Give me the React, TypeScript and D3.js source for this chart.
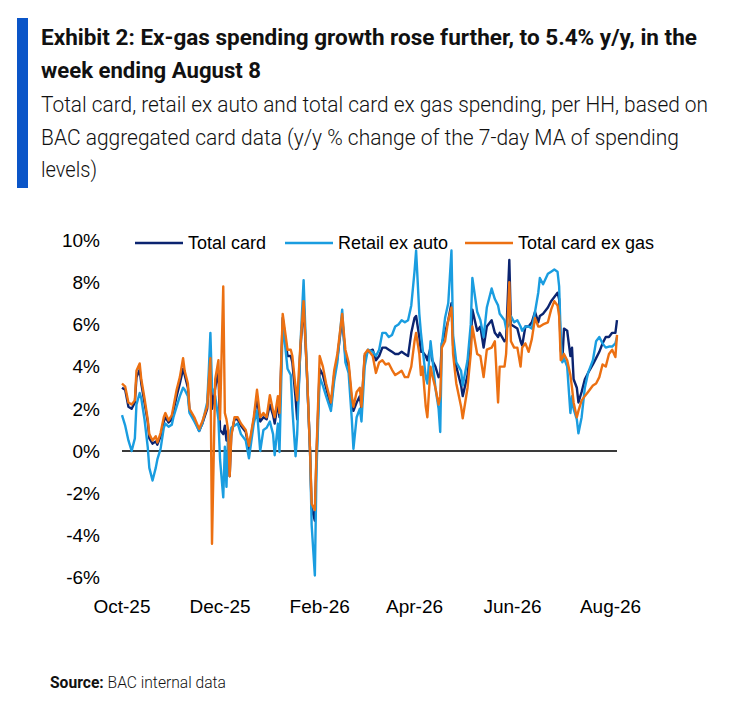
import React from 'react'
import * as d3 from 'd3'

// day offsets from 1 Oct 2025 (sampled off the chart)
const START = '2025-10-01'
const dayOffsets = [
  0, 2, 4, 6, 8, 9, 11, 12, 14, 16, 17, 19, 21, 22, 24, 26, 27, 29, 31, 32,
  34, 36, 38, 39, 41, 42, 45, 48, 50, 53, 54, 55, 56, 58, 60, 61, 63, 64, 65, 66,
  67, 68, 70, 72, 74, 77, 79, 82, 84, 86, 88, 90, 92, 94, 95, 97, 98, 100, 103, 105,
  106, 108, 109, 111, 113, 115, 117, 118, 120, 121, 123, 125, 127, 130, 132, 134, 137, 139, 141, 143,
  144, 146, 148, 149, 151, 153, 156, 158, 160, 162, 164, 166, 168, 170, 172, 174, 176, 178, 180, 182,
  183, 185, 186, 187, 189, 190, 192, 193, 195, 197, 198, 199, 201, 203, 205, 206, 208, 211, 212, 215,
  217, 218, 221, 223, 225, 227, 230, 232, 234, 235, 238, 239, 241, 242, 244, 246, 248, 249, 251, 253,
  255, 257, 259, 260, 262, 265, 267, 269, 271, 272, 273, 274, 275, 277, 279, 280, 281, 283, 284, 286,
  288, 290, 293, 295, 297, 299, 301, 303, 305, 307, 308,
]

const totalCard = [
  3.0, 2.9, 2.1, 2.0, 2.3, 3.5, 3.85, 3.2, 2.3, 1.4, 0.6, 0.35, 0.45, 0.3, 0.7, 1.4, 1.6, 1.35, 1.5, 1.9,
  2.6, 3.2, 3.9, 3.6, 3.0, 1.9, 1.5, 0.95, 1.3, 2.0, 3.2, 4.3, 2.0, 3.0, 3.8, 1.0, 0.8, 1.2, 0.5, 1.0,
  -1.2, 0.8, 1.5, 1.5, 1.2, 0.9, 0.1, 1.5, 2.5, 1.4, 1.6, 1.5, 2.2, 1.7, 1.3, 2.3, 1.6, 6.3, 4.5, 4.5,
  4.2, 2.5, 1.5, 4.8, 7.0, 3.8, 0.0, -2.7, -3.3, -0.3, 3.9, 3.6, 3.0, 2.1, 3.6, 4.4, 6.3, 4.5, 4.0, 2.3,
  1.9, 2.3, 2.6, 2.0, 4.5, 4.7, 4.8, 4.3, 4.5, 4.9, 4.9, 4.8, 4.7, 4.6, 4.6, 4.7, 4.6, 4.5, 5.6, 6.3,
  6.4, 5.4, 4.7, 4.7, 4.5, 4.3, 4.9, 4.3, 4.0, 3.5, 3.6, 5.1, 5.6, 6.2, 7.0, 5.0, 4.0, 3.1, 2.6, 3.6,
  5.2, 6.7, 5.7, 5.9, 4.9, 5.9, 6.2, 5.6, 5.4, 5.6, 5.2, 5.3, 9.05, 6.0, 5.9, 5.8, 5.2, 5.0, 5.9, 5.9,
  6.1, 6.6, 6.1, 6.4, 6.5, 6.8, 7.1, 7.3, 7.5, 7.2, 4.8, 4.3, 5.8, 5.7, 4.5, 4.9, 3.4, 3.0, 2.3, 2.8,
  3.4, 3.7, 4.1, 4.4, 4.7, 5.1, 5.4, 5.4, 5.6, 5.6, 6.2,
]

const retailExAuto = [
  1.7, 1.2, 0.5, 0.0, 0.6, 2.2, 2.75, 2.5, 1.5, 0.2, -0.8, -1.4, -0.8, -0.4, 0.1, 1.1, 1.3, 1.15, 1.25, 1.6,
  2.1, 2.6, 3.0, 2.9, 2.6, 1.8, 1.4, 0.95, 1.3, 2.3, 3.8, 5.6, 3.0, 2.6, 1.5, -0.4, -2.2, 0.2, -1.7, 0.8,
  -0.3, 1.1, 1.2, 1.3, 0.8, 0.5, -0.35, 1.3, 1.9, 0.0, 1.0, 1.1, 1.4, 0.8, -0.2, 1.3, -0.05, 6.1, 3.9, 3.6,
  2.0, -0.25, 0.8, 5.0, 8.1, 3.8, 0.0, -3.5, -5.9, -1.0, 3.5, 3.1, 2.6, 1.9, 3.3, 4.2, 6.7, 4.2, 3.7, 1.5,
  0.1, 1.6, 2.0, 1.4, 4.0, 4.8, 4.7, 4.5, 4.8, 5.6, 5.6, 5.4, 5.5, 5.9, 6.0, 6.2, 6.1, 6.2, 6.9, 8.5,
  9.5, 6.5, 5.6, 4.9, 3.5, 3.2, 5.2, 4.5, 3.0, 2.0, 0.9, 5.0, 6.3, 7.0, 9.5, 5.5, 4.2, 3.8, 3.1, 4.3,
  6.0, 8.2, 6.6, 6.2, 5.4, 6.8, 7.7, 7.2, 6.9, 6.5, 6.2, 5.8, 6.0, 6.4, 6.1, 6.2, 5.9, 5.7, 5.9, 5.9,
  5.8, 6.6, 7.5, 8.2, 7.9, 8.4, 8.5, 8.6, 8.5, 7.8, 5.4, 4.2, 4.4, 4.0, 1.8, 2.6, 2.0, 1.5, 0.84, 1.6,
  3.0, 3.7, 4.3, 5.2, 5.4, 5.1, 4.9, 4.95, 4.95, 5.1, 5.4,
]

const totalCardExGas = [
  3.2, 3.05, 2.3, 2.2, 2.4, 3.8, 4.15, 3.4, 2.5, 1.5, 0.8, 0.5, 0.7, 0.4, 0.85, 1.6, 1.8, 1.45, 1.7, 2.1,
  2.9, 3.5, 4.4, 3.8, 3.2, 2.0, 1.6, 1.05, 1.4, 2.1, 3.3, 4.4, -4.4, 3.4, 4.3, 1.5, 7.8, 1.8, 1.5, 1.0,
  -1.2, 0.7, 1.6, 1.6, 1.3, 1.0, 0.25, 1.6, 2.9, 1.6, 1.8, 1.6, 2.65, 1.9, 1.6, 2.6, 1.8, 6.5, 4.8, 4.8,
  4.5, 3.0, 2.4, 5.0, 7.1, 3.9, 0.0, -2.5, -2.8, -0.1, 4.5, 4.0, 3.2, 2.3, 3.8, 4.6, 6.5, 4.8, 4.2, 2.6,
  2.1, 2.8, 3.0, 2.1, 4.6, 4.8, 4.5, 3.7, 4.2, 4.3, 4.1, 4.15, 3.85, 3.6, 3.7, 3.8, 3.5, 3.5, 4.0, 5.2,
  5.6, 4.6, 3.6, 4.0, 2.1, 1.6, 4.0, 3.6, 3.0, 2.2, 2.6, 4.9, 5.2, 6.2, 6.8, 4.6, 3.2, 2.1, 1.55, 3.0,
  4.6, 5.9, 4.6, 4.5, 3.5, 4.8, 4.9, 5.2, 2.3, 4.0, 4.0, 4.6, 8.0, 5.2, 4.9, 4.9, 4.0, 4.9, 5.1, 4.7,
  5.3, 6.3, 5.9, 5.9, 6.0, 6.1, 6.7, 7.1, 6.9, 6.4, 4.3, 4.4, 4.6, 4.3, 3.6, 3.0, 2.3, 1.6, 1.9, 2.4,
  2.6, 2.8, 3.1, 3.2, 3.5, 4.1, 4.0, 4.6, 4.8, 4.45, 5.5,
]

const seriesNames = ['Total card', 'Retail ex auto', 'Total card ex gas']
const seriesColors = ['#0b2470', '#1a9de0', '#ec7012']
const seriesValues = [totalCard, retailExAuto, totalCardExGas]

const yTicks = [10, 8, 6, 4, 2, 0, -2, -4, -6]
const xTickDates = ['2025-10-01', '2025-12-01', '2026-02-01', '2026-04-01', '2026-06-01', '2026-08-01']

const titleLines = [
  'Exhibit 2: Ex-gas spending growth rose further, to 5.4% y/y, in the',
  'week ending August 8',
]
const subtitleLines = [
  'Total card, retail ex auto and total card ex gas spending, per HH, based on',
  'BAC aggregated card data (y/y % change of the 7-day MA of spending',
  'levels)',
]

const W = 752
const H = 704
const chartFont = '"Liberation Sans", Arial, sans-serif'
const headFont = 'Roboto, "Open Sans", sans-serif'

export default function App() {
  const parse = d3.timeParse('%Y-%m-%d')
  const start = parse(START) as Date
  const dates = dayOffsets.map(d => d3.timeDay.offset(start, d))

  const x = d3.scaleTime()
    .domain(d3.extent(dates) as [Date, Date])
    .range([122, 617])
  const y = d3.scaleLinear().domain([-6, 10]).range([577.6, 240])

  const fmt = d3.timeFormat('%b-%y')

  const line = d3.line<number>()
    .x((_, i) => x(dates[i]))
    .y(d => y(d))

  // title line widths
  const titleWidths = [656, 220]
  const subWidths = [667, 638, 56]
  const titleBase = [45, 78]
  const subBase = [112, 145, 177]

  const legendX = [135, 285, 465]

  return (
    <svg width={W} height={H} style={{ position: 'absolute', left: 0, top: 0, background: '#fff' }}>
      <rect x={17} y={18} width={11} height={170} fill="#0a55c8" />
      {titleLines.map((t, i) => (
        <text key={t} x={41} y={titleBase[i]} fontFamily={headFont} fontWeight={700} fontSize={22}
          fill="#111" textLength={titleWidths[i]} lengthAdjust="spacingAndGlyphs">{t}</text>
      ))}
      {subtitleLines.map((t, i) => (
        <text key={t} x={41} y={subBase[i]} fontFamily={headFont} fontWeight={300} fontSize={22}
          fill="#111" textLength={subWidths[i]} lengthAdjust="spacingAndGlyphs">{t}</text>
      ))}

      {/* y axis labels */}
      {yTicks.map(v => (
        <text key={v} x={100} y={y(v)} dy="0.36em" textAnchor="end" fontFamily={chartFont} fontSize={19} fill="#000">
          {`${v}%`}
        </text>
      ))}

      {/* x axis labels */}
      {xTickDates.map(s => {
        const d = parse(s) as Date
        return (
          <text key={s} x={x(d)} y={613} textAnchor="middle" fontFamily={chartFont} fontSize={19} fill="#000">
            {fmt(d)}
          </text>
        )
      })}

      {/* zero line */}
      <line x1={x(dates[0])} x2={x(dates[dates.length - 1])} y1={y(0)} y2={y(0)} stroke="#3a3a3a" strokeWidth={2} />

      {seriesValues.map((vals, i) => (
        <path key={seriesNames[i]} d={line(vals) || ''} fill="none" stroke={seriesColors[i]}
          strokeWidth={2.4} strokeLinejoin="round" />
      ))}

      {/* legend */}
      {seriesNames.map((n, i) => (
        <g key={n}>
          <line x1={legendX[i]} x2={legendX[i] + 48} y1={243} y2={243} stroke={seriesColors[i]} strokeWidth={2.5} />
          <text x={legendX[i] + 53} y={243} dy="0.36em" fontFamily={chartFont} fontSize={18} fill="#000">{n}</text>
        </g>
      ))}

      <text x={50} y={688} fontFamily={headFont} fontSize={16} fill="#111" textLength={176} lengthAdjust="spacingAndGlyphs">
        <tspan fontWeight={700}>Source:</tspan>
        <tspan fontWeight={300}> BAC internal data</tspan>
      </text>
    </svg>
  )
}
